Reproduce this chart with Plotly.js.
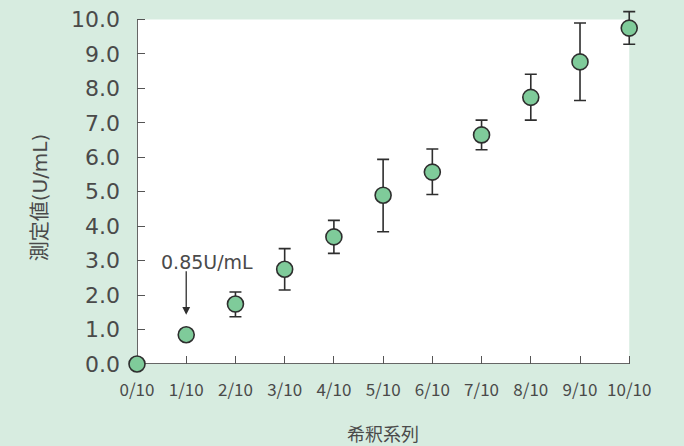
<!DOCTYPE html>
<html>
<head>
<meta charset="utf-8">
<script src="https://cdn.plot.ly/plotly-3.0.1.min.js"></script>
<style>html,body{margin:0;padding:0;background:#d7ece0;}</style>
</head>
<body>
<div id="chart" style="width:684px;height:446px;"></div>
<script>
const categories = ["0/10","1/10","2/10","3/10","4/10","5/10","6/10","7/10","8/10","9/10","10/10"];
const means      = [0.0, 0.85, 1.74, 2.75, 3.69, 4.90, 5.57, 6.65, 7.74, 8.77, 9.75];
const errUpper   = [0.0, 0.0, 0.35, 0.60, 0.48, 1.04, 0.67, 0.43, 0.67, 1.13, 0.48];
const errLower   = [0.0, 0.0, 0.37, 0.60, 0.48, 1.06, 0.65, 0.43, 0.66, 1.12, 0.47];
const yTickVals  = [0,1,2,3,4,5,6,7,8,9,10];
const yTickText  = ["0.0","1.0","2.0","3.0","4.0","5.0","6.0","7.0","8.0","9.0","10.0"];
const yMax       = 10;
const annotText  = "0.85U/mL";
const xTitle     = "希釈系列";
const yTitle     = "測定値(U/mL)";

const font = "'Noto Sans CJK JP', 'Noto Sans', sans-serif";
const wide = "'DejaVu Sans', 'Noto Sans CJK JP', sans-serif";
const bg = '#d7ece0';
const txt = '#4a4a4a';

const trace = {
  type: 'scatter', mode: 'markers',
  x: categories, y: means,
  cliponaxis: false,
  marker: {size: 16, color: '#7fcb9a', line: {color: '#2e2e2e', width: 1.6}},
  error_y: {type: 'data', symmetric: false, array: errUpper, arrayminus: errLower,
            color: '#2e2e2e', thickness: 1.6, width: 6},
  hoverinfo: 'none'
};

const layout = {
  width: 684, height: 446,
  paper_bgcolor: bg, plot_bgcolor: bg,
  margin: {l: 137, r: 40, t: 9, b: 82},
  showlegend: false,
  font: {family: font, color: txt},
  xaxis: {
    type: 'category', range: [0, 10.3], showgrid: false, zeroline: false,
    showline: false,
    ticks: 'inside', ticklen: 8, tickcolor: '#555', tickwidth: 1,
    tickfont: {size: 17, color: txt, family: font},
    ticklabelstandoff: 14
  },
  yaxis: {
    range: [0, 10.305], showgrid: false, zeroline: false,
    showline: false,
    ticks: 'inside', ticklen: 8, tickcolor: '#555', tickwidth: 1,
    tickvals: yTickVals, ticktext: yTickText,
    tickfont: {size: 22, color: txt, family: wide},
    ticklabelstandoff: 16
  },
  shapes: [
    {type: 'rect', xref: 'x', yref: 'y', x0: categories[0], x1: categories[categories.length - 1], y0: 0, y1: yMax,
     fillcolor: '#ffffff', line: {width: 0}, layer: 'below'},
    {type: 'line', xref: 'x', yref: 'y', x0: categories[0], x1: categories[0], y0: 0, y1: yMax,
     line: {color: '#333', width: 1.5}, layer: 'below'},
    {type: 'line', xref: 'x', yref: 'y', x0: categories[0], x1: categories[categories.length - 1], y0: 0, y1: 0,
     line: {color: '#333', width: 1.5}, layer: 'below'}
  ],
  annotations: [
    {x: '1/10', y: 0.85, xref: 'x', yref: 'y', text: '', showarrow: true,
     ax: 0, ay: -65, standoff: 20, arrowhead: 2, arrowsize: 1.2, arrowwidth: 1.3, arrowcolor: '#2e2e2e'},
    {x: '1/10', y: 0.85, xref: 'x', yref: 'y', text: annotText, showarrow: false,
     xshift: 21, yshift: 73, font: {size: 19, color: txt, family: wide}},
    {xref: 'paper', yref: 'paper', x: 0.485, y: -0.194, xanchor: 'center', yanchor: 'middle',
     text: xTitle, showarrow: false, font: {size: 18, color: txt, family: font}},
    {xref: 'paper', yref: 'paper', x: -0.191, y: 0.47, xanchor: 'center', yanchor: 'middle',
     textangle: -90, text: yTitle, showarrow: false, font: {size: 20, color: txt, family: wide}}
  ]
};

Plotly.newPlot('chart', [trace], layout, {staticPlot: true, displayModeBar: false});
</script>
</body>
</html>
